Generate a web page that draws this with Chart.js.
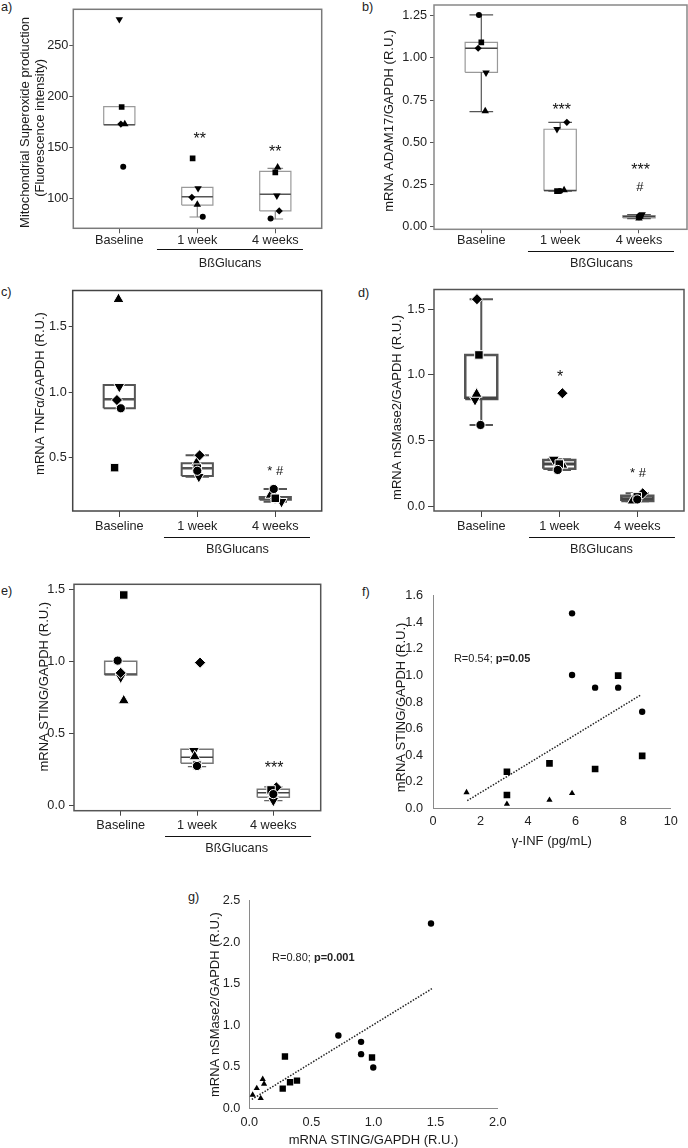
<!DOCTYPE html>
<html><head><meta charset="utf-8">
<script src="https://cdn.jsdelivr.net/npm/chart.js@4.4.1/dist/chart.umd.min.js"></script>
<style>
html,body{margin:0;padding:0;background:#fff;width:688px;height:1148px;overflow:hidden;position:relative;font-family:"Liberation Sans",Arial,sans-serif;}
canvas{position:absolute;left:-30px;top:-30px;width:748px;height:1208px;}
.lbl{position:absolute;font-size:12.7px;color:#222;line-height:1;}
</style></head><body>
<div class="lbl" style="left:1px;top:1px">a)</div>
<div class="lbl" style="left:362px;top:1px">b)</div>
<div class="lbl" style="left:1px;top:286px">c)</div>
<div class="lbl" style="left:358px;top:287px">d)</div>
<div class="lbl" style="left:1px;top:585px">e)</div>
<div class="lbl" style="left:362px;top:586px">f)</div>
<div class="lbl" style="left:188px;top:891px">g)</div>
<canvas id="ca" width="748" height="1208"></canvas>
<canvas id="cb" width="748" height="1208"></canvas>
<canvas id="cc" width="748" height="1208"></canvas>
<canvas id="cd" width="748" height="1208"></canvas>
<canvas id="ce" width="748" height="1208"></canvas>
<canvas id="cf" width="748" height="1208"></canvas>
<canvas id="cg" width="748" height="1208"></canvas>
<script>
// ---------------- DATA ----------------
const groups = ['Baseline', '1 week', '4 weeks'];
const treatment = 'BßGlucans';

// Panel a: Mitochondrial superoxide (values per group: Baseline, 1 week, 4 weeks)
const aCircle   = [130.7, 81.7, 80.0];
const aSquare   = [189.2, 138.9, 125.2];
const aDiamond  = [172.5, 100.7, 87.3];
const aTriUp    = [172.5, 93.5, 130.0];
const aTriDown  = [275.2, 109.5, 102.3];
const aBox      = [[171.9, 171.9, 171.9, 189.5, 189.5], [81.4, 93.1, 101.3, 110.4, 110.4], [79.4, 87.3, 103.6, 126.2, 129.1]]; // lo,q1,med,q3,hi
const aTicks    = [100, 150, 200, 250];
const aStars    = [['**', 2.03, 160.5, 16], ['**', 3.0, 148.2, 16]];

// Panel b: ADAM17
const bCircle   = [1.254, 0.212, 0.060];
const bSquare   = [1.092, 0.211, 0.064];
const bDiamond  = [1.057, 0.618, 0.058];
const bTriUp    = [0.685, 0.217, 0.050];
const bTriDown  = [0.912, 0.577, 0.073];
const bBox      = [[0.681, 0.914, 1.057, 1.092, 1.254], [0.211, 0.213, 0.215, 0.577, 0.618], [0.048, 0.052, 0.060, 0.066, 0.072]];
const bTicks    = [0, 0.25, 0.5, 0.75, 1.0, 1.25];
const bStars    = [['***', 2.02, 0.711, 16], ['***', 3.02, 0.352, 16], ['#', 3.01, 0.231, 13]];

// Panel c: TNFa
const cCircle   = [0.877, 0.40, 0.261];
const cSquare   = [0.424, 0.42, 0.19];
const cDiamond  = [0.94, 0.518, 0.19];
const cTriUp    = [1.709, 0.46, 0.215];
const cTriDown  = [1.042, 0.355, 0.164];
const cBox      = [[0.877, 0.877, 0.946, 1.055, 1.055], [0.355, 0.36, 0.419, 0.457, 0.518], [0.164, 0.178, 0.19, 0.20, 0.261]];
const cTicks    = [0.5, 1.0, 1.5];
const cStars    = [['* #', 3.0, 0.406, 13]];

// Panel d: nSMase2
const dCircle   = [0.618, 0.275, 0.05];
const dSquare   = [1.152, 0.32, 0.07];
const dDiamond  = [1.577, 0.86, 0.097];
const dTriUp    = [0.854, 0.313, 0.04];
const dTriDown  = [0.809, 0.356, 0.071];
const dBox      = [[0.618, 0.816, 0.824, 1.152, 1.577], [0.275, 0.285, 0.32, 0.35, 0.356], [0.036, 0.038, 0.055, 0.079, 0.097]];
const dTicks    = [0, 0.5, 1.0, 1.5];
const dStars    = [['*', 2.01, 1.007, 16], ['* #', 3.01, 0.262, 13]];

// Panel e: STING
const eCircle   = [1.005, 0.275, 0.08];
const eSquare   = [1.46, 0.282, 0.109];
const eDiamond  = [0.92, 0.991, 0.127];
const eTriUp    = [0.728, 0.34, 0.10];
const eTriDown  = [0.89, 0.381, 0.035];
const eBox      = [[0.906, 0.906, 0.913, 1.0, 1.0], [0.27, 0.294, 0.335, 0.391, 0.391], [0.035, 0.058, 0.09, 0.114, 0.13]];
const eTicks    = [0, 0.5, 1.0, 1.5];
const eStars    = [['***', 3.01, 0.282, 16]];

// small horizontal spread of the dots inside each group (x units)
const aJitter = {circle: [0.05, 0.07, -0.06], square: [0.03, -0.06, 0], diamond: [0.02, -0.07, 0.05], triUp: [0.07, 0, 0.03], triDown: [0, 0.01, 0.02]};
const bJitter = {circle: [-0.03, 0, 0], square: [0, -0.04, 0.02], diamond: [-0.04, 0.085, 0], triUp: [0.05, 0.05, 0], triDown: [0.06, -0.04, 0.04]};
const cJitter = {circle: [0.02, 0, -0.02], square: [-0.06, 0, 0], diamond: [-0.03, 0.03, 0], triUp: [-0.01, -0.01, -0.06], triDown: [0, 0.02, 0.08]};
const dJitter = {circle: [-0.01, -0.02, 0], square: [-0.03, 0, 0], diamond: [-0.055, 0.04, 0.07], triUp: [-0.06, 0.04, -0.06], triDown: [-0.08, -0.07, -0.01]};
const eJitter = {circle: [-0.04, 0, 0], square: [0.04, 0, -0.03], diamond: [0, 0.04, 0.04], triUp: [0.04, -0.03, -0.02], triDown: [0, -0.04, 0]};

// Panel f: STING vs gamma-IFN
const fCircleX = [5.85, 5.85, 6.82, 7.79, 8.8];
const fCircleY = [1.467, 1.003, 0.908, 0.908, 0.727];
const fSquareX = [3.11, 3.11, 4.9, 6.82, 7.79, 8.8];
const fSquareY = [0.275, 0.10, 0.338, 0.296, 0.998, 0.394];
const fTriX    = [1.41, 3.11, 4.9, 5.85];
const fTriY    = [0.12, 0.032, 0.062, 0.113];
const fTrendX  = [1.44, 8.74];
const fTrendY  = [0.057, 0.853];
const fXTicks  = [0, 2, 4, 6, 8, 10];
const fYTicks  = [0, 0.2, 0.4, 0.6, 0.8, 1.0, 1.2, 1.4, 1.6];

// Panel g: nSMase2 vs STING
const gCircleX = [1.463, 0.717, 0.90, 0.90, 0.998];
const gCircleY = [2.224, 0.879, 0.802, 0.654, 0.493];
const gSquareX = [0.287, 0.269, 0.328, 0.384, 0.988];
const gSquareY = [0.626, 0.24, 0.316, 0.336, 0.614];
const gTriX    = [0.027, 0.06, 0.108, 0.119, 0.092];
const gTriY    = [0.164, 0.244, 0.353, 0.296, 0.124];
const gTrendX  = [0.02, 1.47];
const gTrendY  = [0.11, 1.44];
const gXTicks  = [0, 0.5, 1.0, 1.5, 2.0];
const gYTicks  = [0, 0.5, 1.0, 1.5, 2.0, 2.5];

// ---------------- RENDERING ----------------
const FONT = '"Liberation Sans", Arial, Helvetica, sans-serif';
const OFF = 30, PAGE_W = 688, PAGE_H = 1148;
const SHAPES = ['circle', 'square', 'diamond', 'triUp', 'triDown'];
const STYLE = {circle: ['circle', 0], square: ['rect', 0], diamond: ['rectRot', 0], triUp: ['triangle', 0], triDown: ['triangle', 180]};
const SMALL = {circle: 3, square: 4, diamond: 3.6, triUp: 4.3, triDown: 4.3};
const LARGE = {circle: 4.6, square: 6, diamond: 5.6, triUp: 6.4, triDown: 6.4};

// shift a rotated axis title along the axis: n>0 moves it down, n<0 up (spaces only)
function shiftTitle(t, n) { const s = ' '.repeat(Math.abs(n)); return n > 0 ? t + s : s + t; }

const annot = {
  id: 'annot',
  beforeDatasetsDraw(chart, args, o) {
    if (!o.frame) return;
    const {ctx, chartArea: a} = chart;
    ctx.save();
    ctx.strokeStyle = o.frame[0]; ctx.lineWidth = o.frame[1];
    ctx.strokeRect(a.left, a.top, a.right - a.left, a.bottom - a.top);
    ctx.restore();
  },
  afterDraw(chart, args, o) {
    const {ctx, chartArea: a, scales: {x, y}} = chart;
    ctx.save();
    ctx.fillStyle = '#111';
    ctx.textAlign = 'center'; ctx.textBaseline = 'middle';
    (o.stars || []).forEach(([t, vx, vy, sz]) => {
      ctx.font = sz + 'px ' + FONT;
      const dy = sz >= 16 ? 3.7 : (t.indexOf('*') >= 0 ? 1.5 : 0);
      ctx.fillText(t, x.getPixelForValue(vx), y.getPixelForValue(vy) + dy);
    });
    if (o.bracket) {
      const b = o.bracket;
      const ly = Math.round(a.bottom + b.lineDy) + 0.5;
      ctx.strokeStyle = '#111'; ctx.lineWidth = 1;
      ctx.beginPath();
      ctx.moveTo(x.getPixelForValue(b.from), ly);
      ctx.lineTo(x.getPixelForValue(b.to), ly);
      ctx.stroke();
      ctx.font = '12.7px ' + FONT; ctx.fillStyle = '#222';
      ctx.fillText(b.text, x.getPixelForValue(b.mid), a.bottom + b.textDy);
    }
    if (o.rtext) {
      const r = o.rtext;
      let px = x.getPixelForValue(r.x);
      const py = y.getPixelForValue(r.y);
      ctx.textAlign = 'left'; ctx.fillStyle = '#222';
      r.parts.forEach(([t, bold]) => {
        ctx.font = (bold ? 'bold ' : '') + '11px ' + FONT;
        ctx.fillText(t, px, py);
        px += ctx.measureText(t).width;
      });
    }
    ctx.restore();
  }
};

function gap(x) { return {x: x, y: null}; }

function boxChart(id, P) {
  const [L, T, R, B] = P.area;
  const XH = 40;
  const ds = [];
  SHAPES.forEach(s => {
    const [ps, rot] = STYLE[s];
    ds.push({
      data: P.values[s].map((v, i) => ({x: i + 1 + P.jitter[s][i], y: v})),
      pointStyle: ps, pointRotation: rot, pointRadius: P.sizes[s],
      pointBackgroundColor: '#000', pointBorderColor: P.white ? '#fff' : '#000',
      pointBorderWidth: P.white ? 1 : 0, showLine: false, order: 0
    });
  });
  const boxPts = [], medPts = [], whPts = [];
  P.box.forEach(([lo, q1, md, q3, hi], i) => {
    const c = i + 1, w = P.boxW, k = P.capW;
    boxPts.push({x: c - w, y: q1}, {x: c + w, y: q1}, {x: c + w, y: q3}, {x: c - w, y: q3}, {x: c - w, y: q1}, gap(c));
    medPts.push({x: c - w, y: md}, {x: c + w, y: md}, gap(c));
    if (hi > q3) whPts.push({x: c, y: q3}, {x: c, y: hi}, gap(c), {x: c - k, y: hi}, {x: c + k, y: hi}, gap(c));
    if (lo < q1) whPts.push({x: c, y: q1}, {x: c, y: lo}, gap(c), {x: c - k, y: lo}, {x: c + k, y: lo}, gap(c));
  });
  const lineDs = (data, st, order) => ({data, showLine: true, pointRadius: 0, borderColor: st[0], borderWidth: st[1], spanGaps: false, order, borderJoinStyle: 'miter'});
  ds.push(lineDs(medPts, P.med, 1), lineDs(whPts, P.whisk, 2), lineDs(boxPts, P.boxSt, 3));

  new Chart(document.getElementById(id), {
    type: 'scatter',
    data: {datasets: ds},
    options: {
      responsive: false, animation: false, events: [],
      layout: {autoPadding: false, padding: {left: P.scaleLeft + OFF, top: T + OFF, right: PAGE_W - R + OFF, bottom: PAGE_H - B - XH + OFF}},
      scales: {
        x: {
          type: 'linear', min: P.xmin, max: P.xmax,
          afterBuildTicks: s => { s.ticks = [1, 2, 3].map(v => ({value: v})); },
          afterFit: s => { s.height = XH; },
          ticks: {callback: v => groups[Math.round(v) - 1], font: {family: FONT, size: 12.7}, color: '#222', padding: P.xTick[1], autoSkip: false, maxRotation: 0, minRotation: 0},
          grid: {display: true, drawOnChartArea: false, drawTicks: true, tickLength: P.xTick[0], color: P.tickColor, lineWidth: 1},
          border: {display: false}
        },
        y: {
          type: 'linear', min: P.ymin, max: P.ymax,
          afterBuildTicks: s => { s.ticks = P.yTicks.map(v => ({value: v})); },
          afterFit: s => { s.width = L - P.scaleLeft; },
          ticks: {callback: v => v.toFixed(P.dec), font: {family: FONT, size: 12.7}, color: '#222', padding: P.yTick[1], autoSkip: false},
          grid: {display: true, drawOnChartArea: false, drawTicks: true, tickLength: P.yTick[0], color: P.tickColor, lineWidth: 1},
          border: {display: false},
          title: {display: true, text: P.title, font: {family: FONT, size: 13}, color: '#1a1a1a', padding: 0}
        }
      },
      plugins: {
        legend: {display: false}, tooltip: {enabled: false},
        annot: {frame: P.frame, stars: P.stars, bracket: Object.assign({text: treatment}, P.bracket)}
      }
    },
    plugins: [annot]
  });
}

function corrChart(id, P) {
  const [L, T, R, B] = P.area;
  const pts = (xs, ys) => xs.map((v, i) => ({x: v, y: ys[i]}));
  const ds = [
    {data: pts(P.cx, P.cy), pointStyle: 'circle', pointRadius: P.sizes[0], pointBackgroundColor: '#000', pointBorderWidth: 0, order: 0},
    {data: pts(P.sx, P.sy), pointStyle: 'rect', pointRadius: P.sizes[1], pointBackgroundColor: '#000', pointBorderWidth: 0, order: 0},
    {data: pts(P.tx, P.ty), pointStyle: 'triangle', pointRadius: P.sizes[2], pointBackgroundColor: '#000', pointBorderWidth: 0, order: 0},
    {data: pts(P.lx, P.ly), showLine: true, pointRadius: 0, borderColor: '#222', borderWidth: 1.5, borderDash: [1.5, 1.5], order: 1}
  ];
  const axisFont = {family: FONT, size: 12.7};
  new Chart(document.getElementById(id), {
    type: 'scatter',
    data: {datasets: ds},
    options: {
      responsive: false, animation: false, events: [],
      layout: {autoPadding: false, padding: {left: P.scaleLeft + OFF, top: T + OFF, right: PAGE_W - R + OFF, bottom: PAGE_H - B - P.xH + OFF}},
      scales: {
        x: {
          type: 'linear', min: P.xmin, max: P.xmax,
          afterBuildTicks: s => { s.ticks = P.xTicks.map(v => ({value: v})); },
          afterFit: s => { s.height = P.xH; },
          ticks: {callback: v => v.toFixed(P.xdec), font: axisFont, color: '#222', padding: P.xPad, autoSkip: false, maxRotation: 0, minRotation: 0},
          grid: {display: false, drawTicks: false, tickLength: 0},
          border: {display: true, color: '#8a8a8a', width: 1},
          title: {display: true, text: P.xTitle, font: {family: FONT, size: 13}, color: '#1a1a1a', padding: 0}
        },
        y: {
          type: 'linear', min: P.ymin, max: P.ymax,
          afterBuildTicks: s => { s.ticks = P.yTicks.map(v => ({value: v})); },
          afterFit: s => { s.width = L - P.scaleLeft; },
          ticks: {callback: v => v.toFixed(1), font: axisFont, color: '#222', padding: P.yPad, autoSkip: false},
          grid: {display: false, drawTicks: false, tickLength: 0},
          border: {display: true, color: '#8a8a8a', width: 1},
          title: {display: true, text: P.yTitle, font: {family: FONT, size: 13}, color: '#1a1a1a', padding: 0}
        }
      },
      plugins: {legend: {display: false}, tooltip: {enabled: false}, annot: {rtext: P.rtext}}
    },
    plugins: [annot]
  });
}

const vals = (c, s, d, u, w) => ({circle: c, square: s, diamond: d, triUp: u, triDown: w});

boxChart('ca', {
  area: [73.3, 9.3, 321.7, 228.3], scaleLeft: 17.2, xmin: 0.41, xmax: 3.595, ymin: 70.3, ymax: 285,
  yTicks: aTicks, dec: 0, title: [shiftTitle('Mitochondrial Superoxide production', 2), shiftTitle('(Fluorescence intensity)', 5)],
  values: vals(aCircle, aSquare, aDiamond, aTriUp, aTriDown), jitter: aJitter, box: aBox,
  sizes: SMALL, white: false, boxW: 0.2, capW: 0.1,
  boxSt: ['#9a9a9a', 1.2], med: ['#555', 1.5], whisk: ['#8a8a8a', 1.2],
  frame: ['#7a7a7a', 1.5], tickColor: '#555', yTick: [4, 1], xTick: [5, 0],
  stars: aStars, bracket: {from: 1.483, to: 3.355, mid: 2.42, lineDy: 21, textDy: 34.7}
});
boxChart('cb', {
  area: [434, 5, 687, 229.3], scaleLeft: 381.2, xmin: 0.40, xmax: 3.609, ymin: -0.0154, ymax: 1.313,
  yTicks: bTicks, dec: 2, title: shiftTitle('mRNA ADAM17/GAPDH (R.U.)', 2),
  values: vals(bCircle, bSquare, bDiamond, bTriUp, bTriDown), jitter: bJitter, box: bBox,
  sizes: SMALL, white: false, boxW: 0.205, capW: 0.15,
  boxSt: ['#999', 1.2], med: ['#444', 1.5], whisk: ['#555', 1.2],
  frame: ['#888', 1.5], tickColor: '#555', yTick: [4, 3], xTick: [4, 0],
  stars: bStars, bracket: {from: 1.592, to: 3.444, mid: 2.524, lineDy: 21.4, textDy: 33.7}
});
boxChart('cc', {
  area: [72.7, 290.5, 321.7, 511], scaleLeft: 32.2, xmin: 0.403, xmax: 3.595, ymin: 0.093, ymax: 1.776,
  yTicks: cTicks, dec: 1, title: shiftTitle('mRNA TNFα/GAPDH (R.U.)', -4),
  values: vals(cCircle, cSquare, cDiamond, cTriUp, cTriDown), jitter: cJitter, box: cBox,
  sizes: LARGE, white: true, boxW: 0.2, capW: 0.15,
  boxSt: ['#555', 2], med: ['#555', 2.5], whisk: ['#555', 2],
  frame: ['#444', 1.5], tickColor: '#444', yTick: [4, 2], xTick: [6, 2],
  stars: cStars, bracket: {from: 1.573, to: 3.445, mid: 2.515, lineDy: 25.7, textDy: 38}
});
boxChart('cd', {
  area: [434, 289.5, 684, 511], scaleLeft: 389.5, xmin: 0.394, xmax: 3.599, ymin: -0.038, ymax: 1.651,
  yTicks: dTicks, dec: 1, title: shiftTitle('mRNA nSMase2/GAPDH (R.U.)', 4),
  values: vals(dCircle, dSquare, dDiamond, dTriUp, dTriDown), jitter: dJitter, box: dBox,
  sizes: LARGE, white: true, boxW: 0.205, capW: 0.15,
  boxSt: ['#555', 2.5], med: ['#444', 3], whisk: ['#555', 2],
  frame: ['#555', 1.5], tickColor: '#444', yTick: [6, 3], xTick: [6, 2],
  stars: dStars, bracket: {from: 1.612, to: 3.483, mid: 2.541, lineDy: 26, textDy: 38}
});
boxChart('ce', {
  area: [74, 584.3, 320.7, 810.7], scaleLeft: 36.2, xmin: 0.388, xmax: 3.621, ymin: -0.035, ymax: 1.534,
  yTicks: eTicks, dec: 1, title: shiftTitle('mRNA STING/GAPDH (R.U.)', -6),
  values: vals(eCircle, eSquare, eDiamond, eTriUp, eTriDown), jitter: eJitter, box: eBox,
  sizes: LARGE, white: true, boxW: 0.21, capW: 0.12,
  boxSt: ['#777', 1.5], med: ['#444', 1.5], whisk: ['#666', 1.2],
  frame: ['#555', 1.5], tickColor: '#444', yTick: [5, 4], xTick: [5, 2.5],
  stars: eStars, bracket: {from: 1.581, to: 3.495, mid: 2.52, lineDy: 25, textDy: 37.6}
});
corrChart('cf', {
  area: [433, 595.7, 670.7, 808.3], scaleLeft: 393.5, xH: 40.5, xmin: 0, xmax: 10, ymin: 0, ymax: 1.6,
  xTicks: fXTicks, yTicks: fYTicks, xdec: 0, xPad: 5.8, yPad: 10,
  xTitle: 'γ-INF (pg/mL)', yTitle: shiftTitle('mRNA STING/GAPDH (R.U.)', 3),
  cx: fCircleX, cy: fCircleY, sx: fSquareX, sy: fSquareY, tx: fTriX, ty: fTriY, lx: fTrendX, ly: fTrendY,
  sizes: [3.2, 4.7, 3.6],
  rtext: {x: 0.88, y: 1.123, parts: [['R=0.54; ', false], ['p=0.05', true]]}
});
corrChart('cg', {
  area: [249.3, 900.5, 497.7, 1108.6], scaleLeft: 207.2, xH: 39.2, xmin: 0, xmax: 2, ymin: 0, ymax: 2.5,
  xTicks: gXTicks, yTicks: gYTicks, xdec: 1, xPad: 6.4, yPad: 9,
  xTitle: 'mRNA STING/GAPDH (R.U.)', yTitle: 'mRNA nSMase2/GAPDH (R.U.)',
  cx: gCircleX, cy: gCircleY, sx: gSquareX, sy: gSquareY, tx: gTriX, ty: gTriY, lx: gTrendX, ly: gTrendY,
  sizes: [3.2, 4.5, 3.6],
  rtext: {x: 0.183, y: 1.81, parts: [['R=0.80; ', false], ['p=0.001', true]]}
});
</script>
</body></html>
